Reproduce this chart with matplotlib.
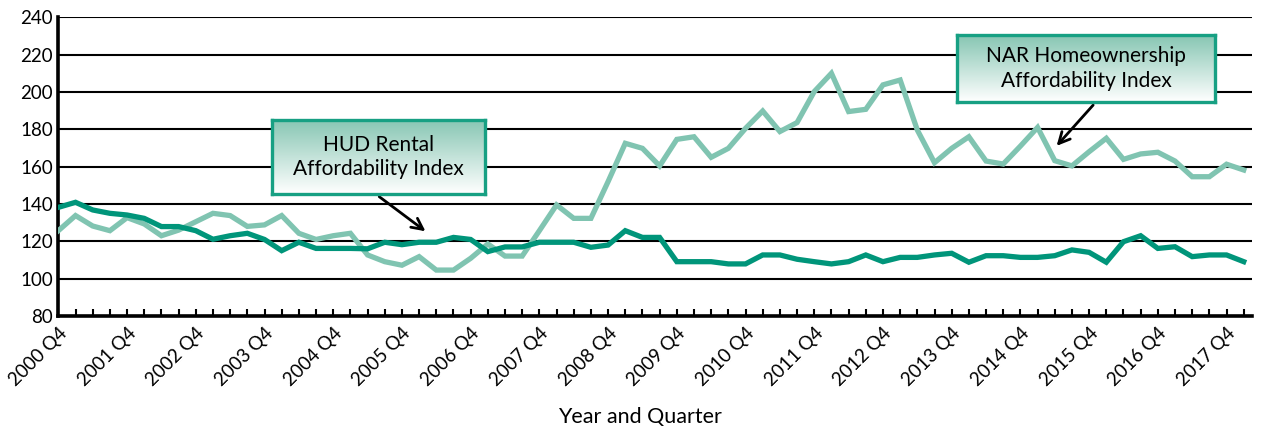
import numpy as np
import matplotlib
matplotlib.use("Agg")
import matplotlib.pyplot as plt

# quarterly data, 2000 Q4 .. 2018 Q1
hud_rental = [138.2, 140.9, 136.8, 135.0, 134.1, 132.3, 127.9, 127.9, 125.7, 121.1,
              123.0, 124.3, 121.0, 115.0, 119.5, 116.2, 116.2, 116.2, 116.0, 119.5,
              118.2, 119.5, 119.5, 122.1, 121.0, 114.5, 117.0, 117.0, 119.5, 119.5,
              119.5, 116.8, 118.0, 125.7, 122.1, 122.1, 109.1, 109.1, 109.1, 107.9,
              107.9, 112.7, 112.7, 110.4, 109.1, 107.9, 109.1, 112.7, 109.1, 111.4,
              111.4, 112.7, 113.6, 108.8, 112.3, 112.3, 111.4, 111.4, 112.3, 115.4,
              114.1, 108.8, 119.8, 123.0, 116.2, 117.1, 111.8, 112.7, 112.7, 109.1]

nar_homeowner = [125.7, 133.8, 128.2, 125.7, 132.7, 129.3, 123.0, 126.0, 130.5, 135.0,
                 133.8, 128.0, 128.8, 133.8, 124.3, 121.0, 123.0, 124.3, 112.7, 109.1,
                 107.2, 111.8, 104.6, 104.6, 110.9, 118.6, 112.1, 112.1, 125.7, 139.5,
                 132.3, 132.3, 152.0, 172.5, 169.8, 160.4, 174.6, 176.0, 165.0, 169.8,
                 180.5, 189.8, 178.8, 183.6, 200.2, 210.0, 189.5, 190.7, 203.8, 206.4,
                 179.6, 162.1, 169.8, 176.0, 163.0, 161.4, 171.0, 181.0, 163.2, 160.4,
                 168.0, 175.2, 163.9, 166.8, 167.7, 163.0, 154.6, 154.6, 161.3, 158.2]

tick_labels = ["2000 Q4", "2001 Q4", "2002 Q4", "2003 Q4", "2004 Q4", "2005 Q4",
               "2006 Q4", "2007 Q4", "2008 Q4", "2009 Q4", "2010 Q4", "2011 Q4",
               "2012 Q4", "2013 Q4", "2014 Q4", "2015 Q4", "2016 Q4", "2017 Q4"]

DARK = "#00957a"
LIGHT = "#80c4b1"
BORDER = "#17a083"

plt.rcParams['font.family'] = ['Lato', 'DejaVu Sans']

fig = plt.figure(figsize=(12.63, 4.32), dpi=100)
ax = fig.add_axes([0.0462, 0.2685, 0.9448, 0.6915])

x = np.arange(len(hud_rental))
ax.plot(x, nar_homeowner, color=LIGHT, lw=3.8, solid_joinstyle='miter', zorder=3)
ax.plot(x, hud_rental, color=DARK, lw=3.8, solid_joinstyle='miter', zorder=4)

ax.set_xlim(0, 69.46)
ax.set_ylim(80, 240)
ax.set_yticks(np.arange(80, 241, 20))
ax.yaxis.grid(True, color='black', lw=1.5)
ax.set_axisbelow(True)
ax.tick_params(axis='y', length=0, labelsize=13.5, pad=4)

ax.set_xticks(x, minor=True)
ax.set_xticks(np.arange(0, 69, 4))
ax.set_xticklabels(tick_labels, rotation=45, ha='right', va='top',
                   rotation_mode='anchor', fontsize=13.5)
ax.tick_params(axis='x', which='both', direction='in', length=5, width=1.5, pad=6)

for side in ['top', 'right']:
    ax.spines[side].set_visible(False)
ax.spines['left'].set_linewidth(2.6)
ax.spines['bottom'].set_linewidth(2.6)

ax.set_xlabel("Year and Quarter", fontsize=15.5)
ax.xaxis.set_label_coords(0.487, -0.305)

# callout boxes with teal gradient
grad = np.linspace(0, 1, 100).reshape(-1, 1)
cmap = matplotlib.colors.LinearSegmentedColormap.from_list('g', ['#87c6b3', '#ffffff'])

def callout(rect, text):
    bx = fig.add_axes(rect)
    bx.imshow(grad, aspect='auto', cmap=cmap, extent=[0, 1, 0, 1])
    bx.set_xticks([])
    bx.set_yticks([])
    for s in bx.spines.values():
        s.set_color(BORDER)
        s.set_linewidth(2.4)
    bx.text(0.5, 0.5, text, ha='center', va='center', fontsize=15,
            linespacing=1.3, transform=bx.transAxes)

callout([0.2154, 0.5509, 0.1686, 0.1713], "HUD Rental\nAffordability Index")
callout([0.7577, 0.7640, 0.2043, 0.1550], "NAR Homeownership\nAffordability Index")

arrow = dict(arrowstyle='->, head_length=0.8, head_width=0.4', color='black', lw=2.0)
ax.annotate('', xy=(21.5, 124.5), xytext=(0.2985, 0.5486),
            textcoords='figure fraction', arrowprops=arrow)
ax.annotate('', xy=(58.0, 170.0), xytext=(0.867, 0.7616),
            textcoords='figure fraction', arrowprops=arrow)

fig.savefig("out.png", dpi=100)
